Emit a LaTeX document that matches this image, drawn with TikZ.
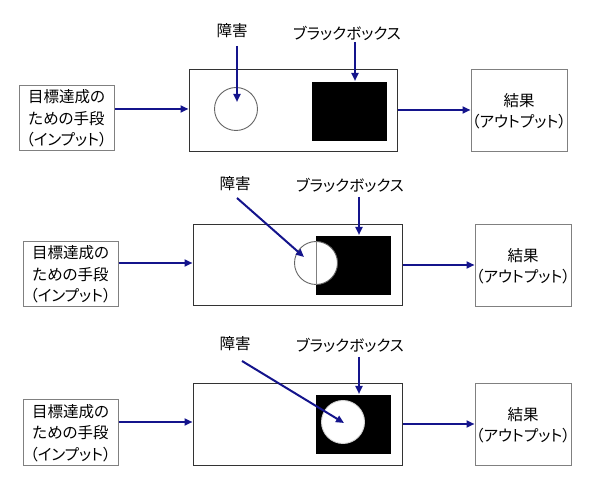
\documentclass[tikz,border=0pt]{standalone}
\usepackage{fontspec}
\newfontfamily\jp[RawFeature=+palt]{Noto Sans CJK JP}
\usetikzlibrary{arrows.meta}
\definecolor{navy}{HTML}{14148C}
\definecolor{boxgray}{HTML}{808080}
\definecolor{mainline}{HTML}{333333}
\tikzset{
  sidebox/.style={draw=boxgray, line width=1pt, fill=white, align=center, inner sep=0pt,
    font=\jp\fontsize{15.5}{21.5}\selectfont},
  mainbox/.style={draw=mainline, line width=1pt, inner sep=0pt},
  blackbox/.style={fill=black, draw=none, inner sep=0pt},
  obst/.style={circle, fill=white, draw=#1, line width=0.9pt, inner sep=0pt, minimum size=43pt},
  lbl/.style={font=\jp\fontsize{15.5}{18}\selectfont, inner sep=0pt},
  arr/.style={draw=navy, line width=2pt, -{Triangle[length=8pt,width=7pt]}, shorten >=0pt}
}
\begin{document}
\begin{tikzpicture}[x=1pt,y=-1pt]
\useasboundingbox (0,0) rectangle (590,489);
% ---------- Panel 1 ----------
\node[sidebox, minimum width=95pt, minimum height=65pt] (in1) at (66.5,118.5) {目標達成の\\ための手段\\（インプット）};
\node[mainbox, minimum width=208pt, minimum height=82pt] (m1) at (293,111) {};
\node[blackbox, minimum width=75pt, minimum height=59pt] (bb1) at (349.5,111.5) {};
\node[obst=gray!80!black] (ob1) at (236,109) {};
\node[sidebox, minimum width=96pt, minimum height=82pt] (out1) at (519,111) {結果\\（アウトプット）};
\node[lbl] (l1a) at (232,31) {障害};
\node[lbl] (l1b) at (347,33) {ブラックボックス};
\coordinate (a1s) at (237,46);
\coordinate (a1e) at (237,102);
\coordinate (b1s) at (355,42);
\coordinate (b1e) at (355,81);
\coordinate (y1i) at (0,109);
\coordinate (y1o) at (0,110);
\draw[arr] (in1.east |- y1i) -- (m1.west |- y1i);
\draw[arr] (m1.east |- y1o) -- (out1.west |- y1o);
\draw[arr] (a1s) -- (a1e);
\draw[arr] (b1s) -- (b1e);
% ---------- Panel 2 ----------
\node[sidebox, minimum width=95pt, minimum height=65pt] (in2) at (70.5,274.5) {目標達成の\\ための手段\\（インプット）};
\node[mainbox, minimum width=209pt, minimum height=81pt] (m2) at (297.5,265.5) {};
\node[blackbox, minimum width=75pt, minimum height=59pt] (bb2) at (353.5,265.5) {};
\node[obst=gray!80!black] (ob2) at (316,263) {};
\draw[gray, line width=0.8pt] (ob2.north) -- (ob2.south);
\node[sidebox, minimum width=96pt, minimum height=82pt] (out2) at (523,266) {結果\\（アウトプット）};
\node[lbl] (l2a) at (235,184) {障害};
\node[lbl] (l2b) at (350,185) {ブラックボックス};
\coordinate (a2s) at (237,198);
\coordinate (a2e) at (304,257);
\coordinate (b2s) at (359,197);
\coordinate (b2e) at (359,235);
\coordinate (y2i) at (0,263);
\coordinate (y2o) at (0,265);
\draw[arr] (in2.east |- y2i) -- (m2.west |- y2i);
\draw[arr] (m2.east |- y2o) -- (out2.west |- y2o);
\draw[arr] (a2s) -- (a2e);
\draw[arr] (b2s) -- (b2e);
% ---------- Panel 3 ----------
\node[sidebox, minimum width=95pt, minimum height=66pt] (in3) at (70.5,433) {目標達成の\\ための手段\\（インプット）};
\node[mainbox, minimum width=209pt, minimum height=82pt] (m3) at (297.5,425) {};
\node[blackbox, minimum width=75pt, minimum height=59pt] (bb3) at (353.5,424.5) {};
\node[obst=gray!35] (ob3) at (343,422) {};
\node[sidebox, minimum width=96pt, minimum height=82pt] (out3) at (523,425) {結果\\（アウトプット）};
\node[lbl] (l3a) at (235,344) {障害};
\node[lbl] (l3b) at (350,345) {ブラックボックス};
\coordinate (a3s) at (242,361);
\coordinate (a3e) at (344,423);
\coordinate (b3s) at (359,357);
\coordinate (b3e) at (359,394);
\coordinate (y3i) at (0,422);
\coordinate (y3o) at (0,424);
\draw[arr] (in3.east |- y3i) -- (m3.west |- y3i);
\draw[arr] (m3.east |- y3o) -- (out3.west |- y3o);
\draw[arr] (a3s) -- (a3e);
\draw[arr] (b3s) -- (b3e);
\end{tikzpicture}
\end{document}
